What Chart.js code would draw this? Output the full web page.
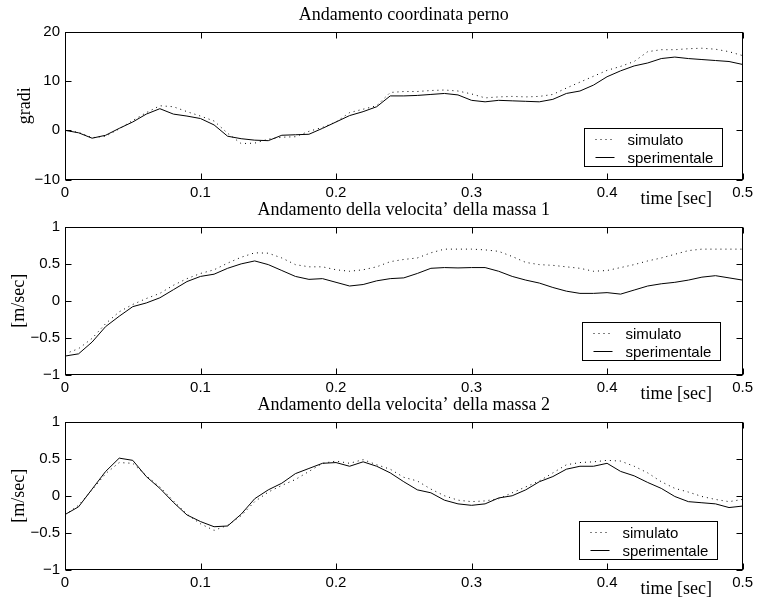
<!DOCTYPE html>
<html><head><meta charset="utf-8">
<script src="https://cdn.jsdelivr.net/npm/chart.js@4.4.0/dist/chart.umd.min.js"></script>
<style>
html,body{margin:0;padding:0;background:#fff;}
body{width:757px;height:598px;position:relative;overflow:hidden;}
canvas{position:absolute;left:0;}
</style></head><body>
<canvas id="c1" width="757" height="208" style="top:0px;width:757px;height:208px"></canvas>
<canvas id="c2" width="757" height="208" style="top:195px;width:757px;height:208px"></canvas>
<canvas id="c3" width="757" height="208" style="top:390px;width:757px;height:208px"></canvas>
<script>
// ---- data ----
const time = [0,0.01,0.02,0.03,0.04,0.05,0.06,0.07,0.08,0.09,0.1,0.11,0.12,0.13,0.14,0.15,0.16,0.17,0.18,0.19,0.2,0.21,0.22,0.23,0.24,0.25,0.26,0.27,0.28,0.29,0.3,0.31,0.32,0.33,0.34,0.35,0.36,0.37,0.38,0.39,0.4,0.41,0.42,0.43,0.44,0.45,0.46,0.47,0.48,0.49,0.5];
const pernoSimulato = [0,-0.4,-1.5,-1.2,0.3,2.0,3.6,5.0,4.8,3.8,2.9,1.9,-0.6,-2.7,-2.6,-1.8,-1.4,-1.3,-0.2,0.6,1.7,3.6,4.3,5.0,7.7,7.9,7.9,8.1,8.2,8.0,7.4,6.6,6.8,6.9,6.8,6.9,7.3,8.6,9.8,11.0,12.2,13.0,14.0,16.0,16.4,16.4,16.6,16.7,16.5,16.0,15.2];
const pernoSperimentale = [0,-0.5,-1.6,-1.0,0.4,1.7,3.3,4.4,3.3,2.9,2.4,1.1,-1.2,-1.7,-2.0,-2.1,-1.0,-0.9,-0.8,0.4,1.7,3.0,3.8,4.8,7.0,7.0,7.1,7.3,7.5,7.2,6.1,5.8,6.1,6.0,5.9,5.8,6.3,7.5,8.0,9.2,10.9,12.1,13.1,13.7,14.6,14.9,14.6,14.4,14.2,14.0,13.4];
const vel1Simulato = [-0.72,-0.65,-0.51,-0.31,-0.15,-0.05,0.03,0.10,0.21,0.30,0.37,0.42,0.51,0.59,0.65,0.645,0.58,0.49,0.46,0.46,0.42,0.40,0.42,0.46,0.53,0.56,0.58,0.65,0.70,0.70,0.70,0.69,0.67,0.60,0.52,0.49,0.48,0.46,0.44,0.40,0.41,0.45,0.49,0.54,0.58,0.63,0.68,0.70,0.70,0.70,0.70];
const vel1Sperimentale = [-0.75,-0.72,-0.56,-0.35,-0.21,-0.08,-0.03,0.04,0.15,0.26,0.33,0.36,0.44,0.50,0.54,0.49,0.41,0.33,0.29,0.30,0.25,0.20,0.22,0.27,0.30,0.31,0.37,0.44,0.45,0.445,0.45,0.45,0.40,0.33,0.28,0.24,0.18,0.13,0.10,0.10,0.11,0.09,0.145,0.20,0.23,0.25,0.28,0.32,0.34,0.31,0.28];
const vel2Simulato = [-0.26,-0.13,0.08,0.30,0.45,0.44,0.27,0.12,-0.07,-0.25,-0.38,-0.47,-0.40,-0.27,-0.08,0.05,0.14,0.22,0.33,0.44,0.47,0.44,0.49,0.42,0.36,0.25,0.20,0.09,0.0,-0.06,-0.08,-0.07,-0.04,0.04,0.12,0.20,0.31,0.42,0.45,0.46,0.48,0.47,0.40,0.31,0.19,0.10,0.05,-0.01,-0.05,-0.08,-0.05];
const vel2Sperimentale = [-0.255,-0.15,0.09,0.33,0.51,0.48,0.26,0.10,-0.09,-0.26,-0.35,-0.42,-0.41,-0.25,-0.04,0.08,0.17,0.30,0.37,0.44,0.45,0.40,0.46,0.40,0.31,0.19,0.08,0.04,-0.06,-0.11,-0.13,-0.11,-0.03,0.0,0.08,0.19,0.26,0.36,0.40,0.40,0.44,0.33,0.27,0.18,0.10,-0.01,-0.08,-0.095,-0.11,-0.16,-0.14];
const xTicks = [0,0.1,0.2,0.3,0.4,0.5];
const yTicksGradi = [-10,0,10,20];
const yTicksVel = [-1,-0.5,0,0.5,1];
const titles = ["Andamento coordinata perno","Andamento della velocita\u2019 della massa 1","Andamento della velocita\u2019 della massa 2"];
const yLabels = ["gradi","[m/sec]","[m/sec]"];
const seriesLabels = ["simulato","sperimentale"];
const xLabel = "time [sec]";

// ---- chart ----
Chart.defaults.font.family = "'Liberation Sans', Arial, sans-serif";
Chart.defaults.color = '#000';

const SERIF = "'Liberation Serif', 'Times New Roman', serif";
const SANS = "'Liberation Sans', Arial, sans-serif";

const matlabPlugin = {
  id: 'matlab',
  afterDraw(chart, args, opts) {
    const {ctx, chartArea: a, scales: {x, y}} = chart;
    ctx.save();
    ctx.strokeStyle = '#000';
    ctx.lineWidth = 1;
    const L = Math.round(a.left) + 0.5, R = Math.round(a.right) - 0.5;
    const T = Math.round(a.top) + 0.5, B = Math.round(a.bottom) - 0.5;
    ctx.strokeRect(L, T, R - L, B - T);
    ctx.beginPath();
    x.ticks.forEach(t => {
      const px = Math.round(x.getPixelForValue(t.value)) + 0.5;
      ctx.moveTo(px, B); ctx.lineTo(px, B - 6);
      ctx.moveTo(px, T); ctx.lineTo(px, T + 6);
    });
    y.ticks.forEach(t => {
      const py = Math.round(y.getPixelForValue(t.value)) + 0.5;
      ctx.moveTo(L, py); ctx.lineTo(L + 6, py);
      ctx.moveTo(R, py); ctx.lineTo(R - 6, py);
    });
    ctx.stroke();

    // title centred over the axes
    ctx.font = '18px ' + SERIF;
    ctx.textAlign = 'center';
    ctx.textBaseline = 'alphabetic';
    ctx.fillStyle = '#000';
    ctx.fillText(opts.title, (a.left + a.right) / 2, a.top - 12);

    // legend box inside the axes
    const bw = 138, bh = 38;
    const bx = Math.round(a.right - opts.right - bw) + 0.5;
    const by = Math.round(a.bottom - opts.bottom - bh) + 0.5;
    ctx.fillStyle = '#fff';
    ctx.fillRect(bx, by, bw, bh);
    ctx.strokeRect(bx, by, bw, bh);
    ctx.font = '15px ' + SANS;
    ctx.textAlign = 'left';
    ctx.textBaseline = 'middle';
    chart.data.datasets.forEach((ds, i) => {
      const ry = Math.round(by + 10.5 + i * 17.5) + 0.5;
      ctx.save();
      ctx.strokeStyle = ds.borderColor;
      ctx.lineWidth = ds.borderWidth;
      ctx.setLineDash(ds.borderDash || []);
      ctx.beginPath();
      ctx.moveTo(bx + 11, ry); ctx.lineTo(bx + 30, ry);
      ctx.stroke();
      ctx.restore();
      ctx.fillStyle = '#000';
      ctx.fillText(ds.label, bx + 43, ry + 1);
    });

    // x label placed like the original (between last two ticks)
    ctx.font = '18px ' + SERIF;
    ctx.textAlign = 'center';
    ctx.textBaseline = 'alphabetic';
    ctx.fillStyle = '#000';
    ctx.fillText(xLabel, x.getPixelForValue(0.451), a.bottom + 24);
    ctx.restore();
  }
};

function fmt(v) { return String(v).replace('-', '\u2212'); }

function makeChart(id, title, yLabel, yTicks, yMin, yMax, sim, sper, legendPos, yTitlePad) {
  const toXY = arr => time.map((t, i) => ({x: t, y: arr[i]}));
  return new Chart(document.getElementById(id), {
    type: 'line',
    data: {
      datasets: [
        {label: seriesLabels[0], data: toXY(sim), borderColor: '#000', borderWidth: 1, borderDash: [1, 4], pointRadius: 0, tension: 0, fill: false},
        {label: seriesLabels[1], data: toXY(sper), borderColor: '#000', borderWidth: 1, pointRadius: 0, tension: 0, fill: false}
      ]
    },
    options: {
      responsive: false,
      animation: false,
      devicePixelRatio: 1,
      layout: {padding: {left: 0, right: 11, top: 32, bottom: 0}},
      plugins: {
        legend: {display: false},
        tooltip: {enabled: false},
        title: {display: false},
        matlab: Object.assign({title: title}, legendPos)
      },
      scales: {
        x: {
          type: 'linear', min: 0, max: 0.5,
          afterBuildTicks: s => { s.ticks = xTicks.map(v => ({value: v})); },
          afterFit: s => { s.height = 28.5; },
          grid: {display: false, drawTicks: false, tickLength: 0},
          border: {display: false},
          ticks: {autoSkip: false, maxRotation: 0, padding: 4, font: {family: SANS, size: 15}, color: '#000', callback: v => fmt(v)}
        },
        y: {
          type: 'linear', min: yMin, max: yMax,
          afterBuildTicks: s => { s.ticks = yTicks.map(v => ({value: v})); },
          afterFit: s => { s.width = 65; },
          grid: {display: false, drawTicks: false, tickLength: 0},
          border: {display: false},
          ticks: {padding: 5, font: {family: SANS, size: 15}, color: '#000', callback: v => fmt(v)},
          title: {display: true, text: yLabel, color: '#000', font: {family: SERIF, size: 18, weight: 'normal'}, padding: {top: yTitlePad, bottom: 0}}
        }
      }
    },
    plugins: [matlabPlugin]
  });
}

makeChart('c1', titles[0], yLabels[0], yTicksGradi, -10, 20, pernoSimulato, pernoSperimentale, {right: 21, bottom: 14}, 14);
makeChart('c2', titles[1], yLabels[1], yTicksVel, -1, 1, vel1Simulato, vel1Sperimentale, {right: 23, bottom: 15}, 8.5);
makeChart('c3', titles[2], yLabels[2], yTicksVel, -1, 1, vel2Simulato, vel2Sperimentale, {right: 26, bottom: 11}, 8.5);
</script>
</body></html>
